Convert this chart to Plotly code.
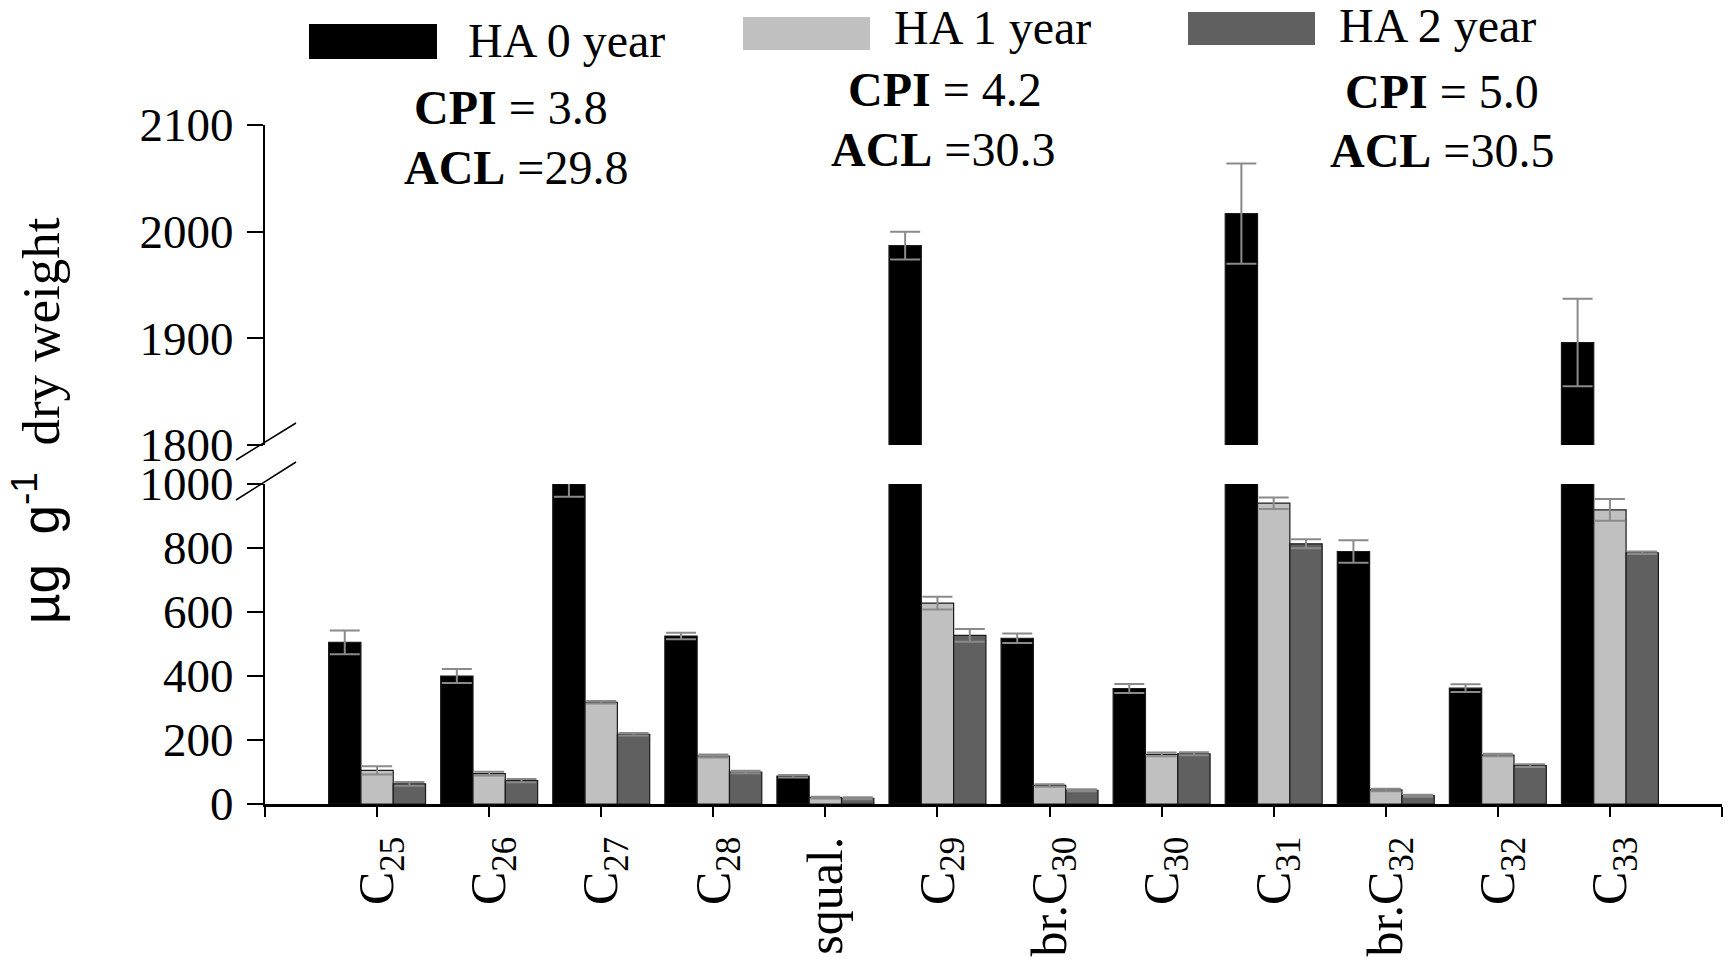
import plotly.graph_objects as go

categories = ["C<sub>25</sub>", "C<sub>26</sub>", "C<sub>27</sub>", "C<sub>28</sub>", "squal.",
              "C<sub>29</sub>", "br.C<sub>30</sub>", "C<sub>30</sub>", "C<sub>31</sub>",
              "br.C<sub>32</sub>", "C<sub>32</sub>", "C<sub>33</sub>"]
ha0 = [505, 400, 1000, 525, 87, 1987, 518, 361, 2017, 789, 362, 1896]
ha0_err = [37, 22, 40, 10, 4, 13, 15, 14, 47, 35, 12, 41]
ha1 = [105, 95, 318, 150, 20, 628, 58, 155, 940, 44, 153, 919]
ha1_err = [13, 6, 4, 5, 3, 20, 4, 6, 18, 4, 4, 34]
ha2 = [63, 73, 218, 100, 18, 527, 43, 157, 813, 26, 120, 785]
ha2_err = [6, 5, 4, 4, 3, 20, 3, 5, 14, 3, 4, 4]

series_names = ["HA 0 year", "HA 1 year", "HA 2 year"]
series_colors = ["#000000", "#c0c0c0", "#606060"]
lower_ticks = [0, 200, 400, 600, 800, 1000]
upper_ticks = [1800, 1900, 2000, 2100]
cpi_texts = ["<b>CPI</b> = 3.8", "<b>CPI</b> = 4.2", "<b>CPI</b> = 5.0"]
acl_texts = ["<b>ACL</b> =29.8", "<b>ACL</b> =30.3", "<b>ACL</b> =30.5"]

FONT = "Liberation Serif, Times New Roman, serif"
OFF = 8  # page body margin
W, H = 1733 - OFF, 961 - OFF
ML, MT = 257, 117
PW, PH = 1457, 679
MR = W - ML - PW
MB = H - MT - PH


def px(x):
    # x in window pixels -> paper fraction
    return (x - OFF - ML) / PW


def py(y):
    # y in window pixels -> paper fraction
    return (H - MB - (y - OFF)) / PH


xs = list(range(len(categories)))
fig = go.Figure()
for vals, errs, name, col in zip([ha0, ha1, ha2], [ha0_err, ha1_err, ha2_err], series_names, series_colors):
    for xa, ya in [("x", "y"), ("x2", "y2")]:
        fig.add_trace(go.Bar(
            x=xs, y=vals, name=name, xaxis=xa, yaxis=ya, showlegend=False,
            marker=dict(color=col, line=dict(color="#1a1a1a", width=1.2)),
            error_y=dict(type="data", array=errs, visible=True, color="#8a8a8a", thickness=2, width=15),
        ))

lower_dom = [0, py(484)]
upper_dom = [py(445), 1]

fig.update_layout(
    width=W, height=H,
    margin=dict(l=ML, r=MR, t=MT, b=MB),
    plot_bgcolor="white", paper_bgcolor="white",
    barmode="group", bargap=0.135, bargroupgap=0,
    font=dict(family=FONT, size=46, color="black"),
    xaxis=dict(domain=[0, 1], anchor="y", range=[-1, 12], automargin=False,
               tickvals=[-1] + xs + [12], ticktext=[""] + categories + [""],
               tickangle=-90, ticks="outside", ticklen=10, tickwidth=2, tickcolor="black",
               showline=True, linecolor="black", linewidth=2.5, showgrid=False, zeroline=False,
               tickfont=dict(family=FONT, size=50)),
    xaxis2=dict(domain=[0, 1], anchor="y2", matches="x", visible=False, automargin=False),
    yaxis=dict(domain=lower_dom, range=[0, 1000], tickvals=lower_ticks, automargin=False,
               ticks="outside", ticklen=16, tickwidth=2, tickcolor="black",
               showline=True, linecolor="black", linewidth=2, showgrid=False, zeroline=False,
               tickfont=dict(family=FONT, size=47), ticklabelstandoff=4),
    yaxis2=dict(domain=upper_dom, range=[1800, 2100], tickvals=upper_ticks, automargin=False,
                ticks="outside", ticklen=16, tickwidth=2, tickcolor="black",
                showline=True, linecolor="black", linewidth=2, showgrid=False, zeroline=False,
                tickfont=dict(family=FONT, size=47), ticklabelstandoff=4),
)

# axis break marks
for (x0, y0, x1, y1) in [(236, 460, 296, 423), (236, 500, 296, 462)]:
    fig.add_shape(type="line", xref="paper", yref="paper",
                  x0=px(x0), y0=py(y0), x1=px(x1), y1=py(y1),
                  line=dict(color="black", width=1.5))

# custom legend (large swatches)
legend_items = [(309, 437, 24, 59, 466, 40), (743, 870, 17, 50, 892, 27), (1188, 1315, 12, 45, 1337, 25)]
for (sx0, sx1, sy0, sy1, tx, ty), name, col in zip(legend_items, series_names, series_colors):
    fig.add_shape(type="rect", xref="paper", yref="paper",
                  x0=px(sx0), x1=px(sx1), y0=py(sy1), y1=py(sy0),
                  fillcolor=col, line=dict(width=0))
    fig.add_annotation(xref="paper", yref="paper", x=px(tx), y=py(ty), text=name,
                       showarrow=False, xanchor="left", yanchor="middle",
                       font=dict(family=FONT, size=48))

# CPI / ACL annotations
cpi_pos = [(511, 107), (945, 90), (1442, 92)]
acl_pos = [(516, 167), (943, 149), (1442, 151)]
for t, (x, y) in zip(cpi_texts, cpi_pos):
    fig.add_annotation(xref="paper", yref="paper", x=px(x), y=py(y), text=t,
                       showarrow=False, xanchor="center", yanchor="middle",
                       font=dict(family=FONT, size=48))
for t, (x, y) in zip(acl_texts, acl_pos):
    fig.add_annotation(xref="paper", yref="paper", x=px(x), y=py(y), text=t,
                       showarrow=False, xanchor="center", yanchor="middle",
                       font=dict(family=FONT, size=48))

# y-axis title
fig.add_annotation(xref="paper", yref="paper", x=px(36), y=py(421), textangle=-90,
                   text='<span style="font-family:Liberation Sans, Arial, sans-serif">\u00b5g\u00a0\u00a0g<sup>-1</sup></span>\u00a0\u00a0dry weight',
                   showarrow=False, xanchor="center", yanchor="middle",
                   font=dict(family=FONT, size=53))

fig.write_html("out.html")
